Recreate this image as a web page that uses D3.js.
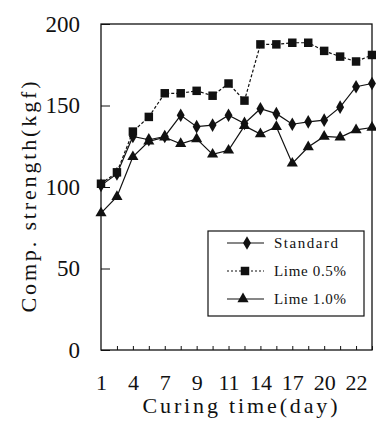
<!DOCTYPE html>
<html>
<head>
<meta charset="utf-8">
<script src="https://cdn.jsdelivr.net/npm/d3@7"></script>
<style>
  html, body { margin: 0; padding: 0; background: #fff; }
  svg { display: block; }
</style>
</head>
<body>
<div id="chart"></div>
<script>
// Curing-time categories (18 measurement points, labelled every other one)
const tickLabels = ["1", "", "4", "", "7", "", "9", "", "11", "", "14", "", "17", "", "20", "", "22", ""];
const yTicks = [0, 50, 100, 150, 200];

// Compressive strength (kgf) per curing point
const standard = [101, 108, 131, 129, 131, 144, 137, 138, 144, 139, 148, 145, 138.5, 140, 141, 149, 161.5, 163.5];
const lime05   = [102, 109, 134, 143, 157.5, 157.5, 159, 156, 163.5, 153, 187.5, 187.5, 188.5, 188.5, 183.5, 180, 177, 181];
const lime10   = [84, 94, 118.5, 128, 130.5, 126.5, 129.5, 120, 122.5, 137.5, 132.5, 137, 114.5, 124.5, 131, 130.5, 135, 136.5];

const seriesNames = ["Standard", "Lime 0.5%", "Lime 1.0%"];

const W = 376, H = 435;
const plot = { left: 101, right: 372, top: 24, bottom: 350 };

const svg = d3.select("#chart").append("svg")
  .attr("width", W).attr("height", H);

const idx = d3.range(tickLabels.length);
const x = d3.scalePoint().domain(idx).range([plot.left, plot.right]);
const y = d3.scaleLinear().domain([0, 200]).range([plot.bottom, plot.top]);

const ink = "#111";
const serif = "'Liberation Serif', 'DejaVu Serif', serif";

// Series definitions: line style + marker shape
const series = [
  { name: seriesNames[0], values: standard, dash: null,  symbol: d3.symbolDiamond, size: 54 },
  { name: seriesNames[1], values: lime05,   dash: "3,2", symbol: d3.symbolSquare,  size: 72 },
  { name: seriesNames[2], values: lime10,   dash: null,  symbol: d3.symbolTriangle, size: 54 }
];

// Frame
svg.append("rect")
  .attr("x", plot.left).attr("y", plot.top)
  .attr("width", plot.right - plot.left).attr("height", plot.bottom - plot.top)
  .attr("fill", "none").attr("stroke", ink).attr("stroke-width", 1.3);

// X axis: inward ticks at every curing point
const xAxis = d3.axisBottom(x)
  .tickSizeInner(-4).tickSizeOuter(0).tickPadding(24)
  .tickFormat(i => tickLabels[i]);
const gx = svg.append("g")
  .attr("transform", `translate(0,${plot.bottom})`)
  .call(xAxis);
gx.select(".domain").remove();
gx.selectAll(".tick line").attr("stroke", ink);
gx.selectAll(".tick").filter(i => i === 0).select("line").remove();
gx.selectAll("text")
  .attr("font-family", serif).attr("font-size", 22).attr("fill", ink);

// Y axis: inward ticks
const yAxis = d3.axisLeft(y)
  .tickValues(yTicks).tickSizeInner(-9).tickSizeOuter(0).tickPadding(21);
const gy = svg.append("g")
  .attr("transform", `translate(${plot.left},0)`)
  .call(yAxis);
gy.select(".domain").remove();
gy.selectAll(".tick line").attr("stroke", ink);
gy.selectAll("text")
  .attr("font-family", serif).attr("font-size", 23).attr("fill", ink);

// Axis titles (evenly spaced serif lettering)
svg.append("text")
  .attr("transform", "rotate(-90)")
  .attr("x", -197).attr("y", 36)
  .attr("text-anchor", "middle")
  .attr("font-family", serif).attr("font-size", 22)
  .attr("textLength", 231).attr("lengthAdjust", "spacing")
  .attr("fill", ink)
  .text("Comp. strength(kgf)");

svg.append("text")
  .attr("x", 240).attr("y", 413)
  .attr("text-anchor", "middle")
  .attr("font-family", serif).attr("font-size", 22)
  .attr("textLength", 195).attr("lengthAdjust", "spacing")
  .attr("fill", ink)
  .text("Curing time(day)");

// Lines and markers
const line = d3.line().x((d, i) => x(i)).y(d => y(d));

series.forEach(s => {
  svg.append("path")
    .datum(s.values)
    .attr("d", line)
    .attr("fill", "none")
    .attr("stroke", ink)
    .attr("stroke-width", 1.2)
    .attr("stroke-dasharray", s.dash);

  svg.append("g").selectAll("path")
    .data(s.values)
    .join("path")
    .attr("transform", (d, i) => `translate(${x(i)},${y(d)})`)
    .attr("d", d3.symbol().type(s.symbol).size(s.size))
    .attr("fill", ink);
});

// Legend
const lg = svg.append("g");
lg.append("rect")
  .attr("x", 208).attr("y", 231).attr("width", 156).attr("height", 85)
  .attr("fill", "#fff").attr("stroke", ink).attr("stroke-width", 1.2);

const legendRows = [243, 271, 299];
const legendMarkX = [247, 245, 243];
series.forEach((s, k) => {
  const ly = legendRows[k];
  lg.append("line")
    .attr("x1", 227).attr("x2", 264).attr("y1", ly).attr("y2", ly)
    .attr("stroke", ink).attr("stroke-width", 1.2)
    .attr("stroke-dasharray", s.dash ? "2,2" : null);
  lg.append("path")
    .attr("transform", `translate(${legendMarkX[k]},${ly})`)
    .attr("d", d3.symbol().type(s.symbol).size(s.size))
    .attr("fill", ink);
  lg.append("text")
    .attr("x", 274).attr("y", ly + 5)
    .attr("font-family", serif).attr("font-size", 15)
    .attr("textLength", s.name.length * 8).attr("lengthAdjust", "spacing")
    .attr("fill", ink)
    .text(s.name);
});
</script>
</body>
</html>
